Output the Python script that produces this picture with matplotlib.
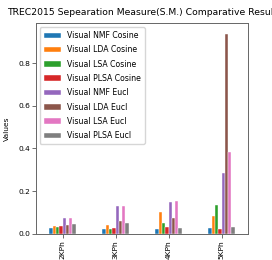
import numpy as np
import matplotlib
matplotlib.use("Agg")
import matplotlib.pyplot as plt

# --- Data ---
categories = ["2KPh", "3KPh", "4KPh", "5KPh"]
series_names = [
    "Visual NMF Cosine", "Visual LDA Cosine", "Visual LSA Cosine", "Visual PLSA Cosine",
    "Visual NMF Eucl", "Visual LDA Eucl", "Visual LSA Eucl", "Visual PLSA Eucl",
]
nmf_cos = [0.027, 0.020, 0.023, 0.028]
lda_cos = [0.034, 0.039, 0.103, 0.084]
lsa_cos = [0.030, 0.023, 0.050, 0.134]
plsa_cos = [0.036, 0.028, 0.031, 0.020]
nmf_eucl = [0.072, 0.131, 0.150, 0.286]
lda_eucl = [0.039, 0.058, 0.075, 0.939]
lsa_eucl = [0.075, 0.131, 0.155, 0.381]
plsa_eucl = [0.047, 0.048, 0.028, 0.031]
series = [nmf_cos, lda_cos, lsa_cos, plsa_cos, nmf_eucl, lda_eucl, lsa_eucl, plsa_eucl]

colors = ["#1f77b4", "#ff7f0e", "#2ca02c", "#d62728",
          "#9467bd", "#8c564b", "#e377c2", "#7f7f7f"]

FS = 5.4

fig = plt.figure(figsize=(2.72, 2.6), dpi=100)
ax = fig.add_axes([0.1324, 0.1012, 0.7794, 0.8092])

n = len(series)
w = 0.5 / n
x = np.arange(len(categories))
for i, (name, vals) in enumerate(zip(series_names, series)):
    offs = (i - (n - 1) / 2) * w
    ax.bar(x + offs, vals, width=w, color=colors[i], label=name,
           edgecolor="white", linewidth=0.3)

ax.set_xlim(-0.5, len(categories) - 0.5)
ax.set_ylim(0, 0.987)
ax.set_yticks([0.0, 0.2, 0.4, 0.6, 0.8])
ax.set_xticks(x)
ax.set_xticklabels(categories, rotation=90, fontsize=FS)
ax.tick_params(axis="y", labelsize=FS, length=3, width=0.6, pad=1.2, color="#555555")
ax.tick_params(axis="x", length=3, width=0.6, pad=1.5, color="#555555")
ax.set_ylabel("Values", fontsize=FS, labelpad=6)
ax.set_title("TREC2015 Sepearation Measure(S.M.) Comparative Result", fontsize=6.7)
for sp in ax.spines.values():
    sp.set_linewidth(0.7)
    sp.set_color("#666666")
ax.legend(loc="upper left", fontsize=5.6, handlelength=2.2, labelspacing=0.68,
          borderpad=0.5, framealpha=0.8)

fig.savefig("out.png", dpi=100)
